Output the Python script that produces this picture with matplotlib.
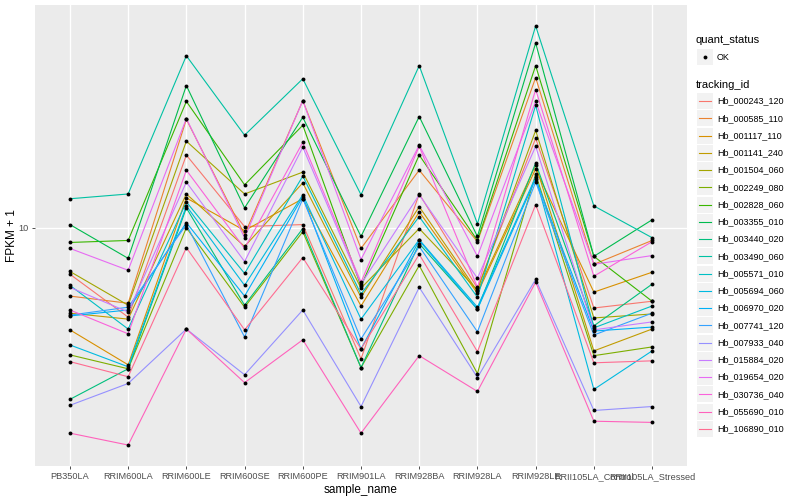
import numpy as np
import matplotlib
matplotlib.use("Agg")
from matplotlib import pyplot as plt
from matplotlib.lines import Line2D
from matplotlib.patches import Rectangle

plt.rcParams['font.family'] = ['Liberation Sans', 'DejaVu Sans']

samples = ['PB350LA', 'RRIM600LA', 'RRIM600LE', 'RRIM600SE', 'RRIM600PE', 'RRIM901LA',
           'RRIM928BA', 'RRIM928LA', 'RRIM928LE', 'RRII105LA_Control', 'RRII105LA_Stressed']

tracking_ids = ['Hb_000243_120', 'Hb_000585_110', 'Hb_001117_110', 'Hb_001141_240', 'Hb_001504_060',
                'Hb_002249_080', 'Hb_002828_060', 'Hb_003355_010', 'Hb_003440_020', 'Hb_003490_060',
                'Hb_005571_010', 'Hb_005694_060', 'Hb_006970_020', 'Hb_007741_120', 'Hb_007933_040',
                'Hb_015884_020', 'Hb_019654_020', 'Hb_030736_040', 'Hb_055690_010', 'Hb_106890_010']

# ggplot hue palette, 20 levels
colors = ['#F8766D', '#EA8331', '#D89000', '#C09B00', '#A3A500', '#7CAE00', '#39B600', '#00BB4E',
          '#00BF7D', '#00C1A3', '#00BFC4', '#00BAE0', '#00B0F6', '#35A2FF', '#9590FF', '#C77CFF',
          '#E76BF3', '#FA62DB', '#FF62BC', '#FF6C91']

# log10(FPKM + 1), one list per tracking_id
lg_000243 = [0.883, 0.775, 1.183, 1.003, 1.008, 0.670, 1.085, 0.848, 1.225, 0.798, 0.815]
lg_000585 = [0.828, 0.810, 1.273, 0.983, 1.320, 0.948, 1.145, 0.965, 1.378, 0.908, 0.968]
lg_001117 = [0.743, 0.655, 1.075, 0.993, 1.073, 0.803, 1.040, 0.835, 1.148, 0.838, 0.888]
lg_001141 = [0.785, 0.770, 1.085, 0.953, 1.113, 0.825, 1.053, 0.840, 1.158, 0.690, 0.745]
lg_001504 = [0.890, 0.805, 1.218, 1.085, 1.140, 0.848, 0.998, 0.843, 1.245, 0.773, 0.783]
lg_002249 = [0.680, 0.645, 1.000, 0.800, 0.990, 0.648, 0.905, 0.633, 1.135, 0.678, 0.700]
lg_002828 = [0.963, 0.968, 1.318, 1.108, 1.258, 0.853, 1.183, 0.968, 1.408, 0.928, 0.815]
lg_003355 = [1.008, 0.923, 1.358, 1.050, 1.278, 0.978, 1.280, 0.978, 1.465, 0.928, 1.020]
lg_003440 = [0.568, 0.645, 1.050, 0.805, 0.998, 0.648, 0.960, 0.795, 1.163, 0.753, 0.858]
lg_003490 = [1.073, 1.085, 1.433, 1.233, 1.375, 1.083, 1.408, 1.010, 1.508, 1.055, 0.975]
lg_005571 = [0.855, 0.745, 1.065, 0.885, 1.130, 0.833, 1.028, 0.825, 1.308, 0.748, 0.803]
lg_005694 = [0.705, 0.650, 1.055, 0.855, 1.083, 0.770, 0.970, 0.800, 1.128, 0.593, 0.690]
lg_006970 = [0.778, 0.793, 1.013, 0.828, 1.078, 0.695, 0.968, 0.795, 1.123, 0.740, 0.750]
lg_007741 = [0.780, 0.800, 1.008, 0.725, 1.073, 0.720, 0.953, 0.738, 1.115, 0.730, 0.785]
lg_007933 = [0.553, 0.608, 0.745, 0.630, 0.793, 0.550, 0.850, 0.623, 0.870, 0.540, 0.550]
lg_015884 = [0.850, 0.788, 1.115, 0.915, 1.203, 0.858, 1.083, 0.873, 1.205, 0.743, 0.763]
lg_019654 = [0.948, 0.893, 1.275, 0.975, 1.320, 0.920, 1.208, 0.928, 1.318, 0.908, 0.930]
lg_030736 = [0.793, 0.733, 1.145, 0.948, 1.215, 0.863, 1.205, 0.850, 1.348, 0.878, 0.965]
lg_055690 = [0.483, 0.453, 0.745, 0.610, 0.718, 0.483, 0.678, 0.588, 0.863, 0.513, 0.510]
lg_106890 = [0.663, 0.625, 0.950, 0.743, 0.925, 0.695, 0.933, 0.688, 1.058, 0.660, 0.665]

series = [lg_000243, lg_000585, lg_001117, lg_001141, lg_001504, lg_002249, lg_002828,
          lg_003355, lg_003440, lg_003490, lg_005571, lg_005694, lg_006970, lg_007741,
          lg_007933, lg_015884, lg_019654, lg_030736, lg_055690, lg_106890]

fig = plt.figure(figsize=(8, 5), dpi=100)
ax = fig.add_axes([35 / 800, 34 / 500, 652 / 800, 461 / 500])
ax.set_facecolor('#EBEBEB')

x = np.arange(len(samples))
for s, c in zip(series, colors):
    ax.plot(x, 10 ** np.array(s), color=c, lw=0.8, zorder=2)
for s in series:
    ax.plot(x, 10 ** np.array(s), 'o', color='black', ms=2.8, mew=0, zorder=3)

ax.set_yscale('log')
allv = np.concatenate(series)
lo, hi = allv.min(), allv.max()
pad = (hi - lo) * 0.05
ax.set_ylim(10 ** (lo - pad), 10 ** (hi + pad))
ax.set_xlim(-0.6, len(samples) - 0.4)

ax.set_xticks(x)
ax.set_xticklabels(samples)
ax.set_yticks([10])
ax.set_yticklabels(['10'])
ax.yaxis.set_minor_locator(matplotlib.ticker.NullLocator())
ax.tick_params(axis='both', length=2.5, width=0.6, color='#333333', labelsize=6.6,
               labelcolor='#4D4D4D', pad=2)
ax.grid(True, which='major', color='white', lw=1.0, zorder=0)
ax.set_axisbelow(True)
for sp in ax.spines.values():
    sp.set_visible(False)

ax.set_xlabel('sample_name', fontsize=8.5, labelpad=2)
ax.set_ylabel('FPKM + 1', fontsize=8.5, labelpad=0)

# legend drawn by hand, ggplot style
fig.text(696 / 800, 1 - 40 / 500, 'quant_status', fontsize=8, va='center', ha='left')
fig.patches.append(Rectangle((697 / 800, 1 - 65 / 500), 16 / 800, 16 / 500,
                             transform=fig.transFigure, facecolor='#F2F2F2', edgecolor='none'))
fig.lines.append(Line2D([705 / 800], [1 - 57 / 500], transform=fig.transFigure, marker='o',
                        color='black', ms=2.8, mew=0, ls='none'))
fig.text(717 / 800, 1 - 57 / 500, 'OK', fontsize=6.5, va='center', ha='left')

fig.text(696 / 800, 1 - 85 / 500, 'tracking_id', fontsize=8, va='center', ha='left')
for i, (tid, c) in enumerate(zip(tracking_ids, colors)):
    yc = 101 + i * 17.26
    fig.patches.append(Rectangle((697 / 800, 1 - (yc + 8) / 500), 16 / 800, 16 / 500,
                                 transform=fig.transFigure, facecolor='#F2F2F2', edgecolor='none'))
    fig.lines.append(Line2D([699 / 800, 711 / 800], [1 - yc / 500, 1 - yc / 500],
                            transform=fig.transFigure, color=c, lw=0.8))
    fig.text(717 / 800, 1 - yc / 500, tid, fontsize=6.5, va='center', ha='left')

fig.savefig('out.png', dpi=100)
